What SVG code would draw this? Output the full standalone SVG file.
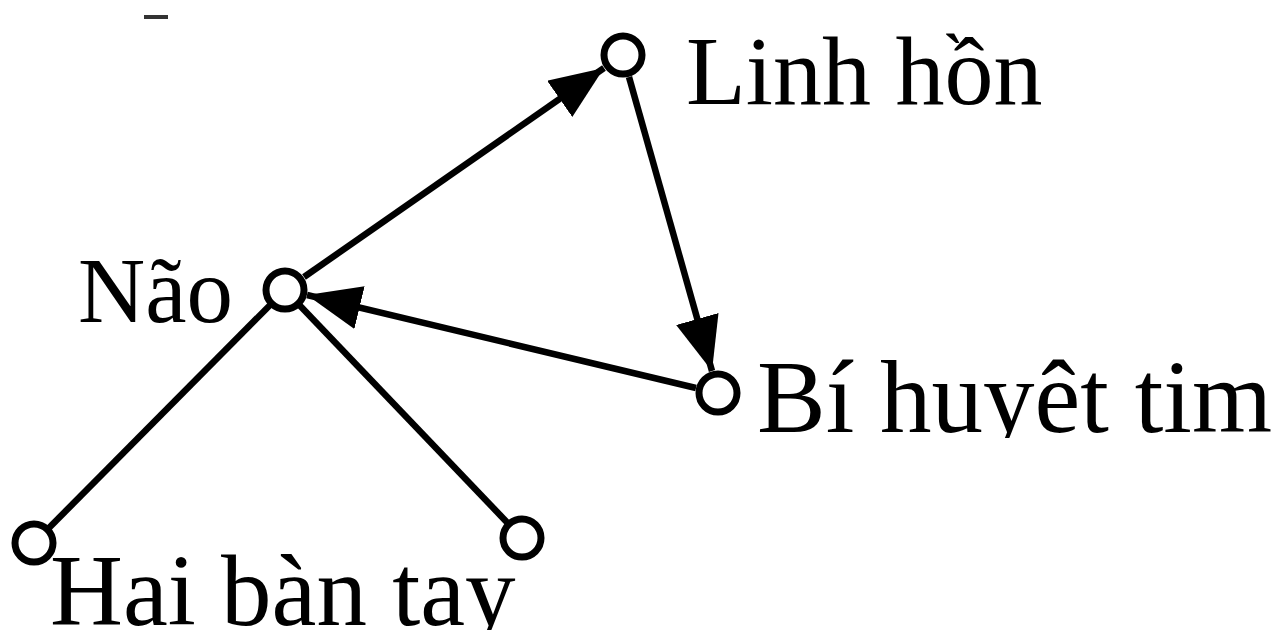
<svg xmlns="http://www.w3.org/2000/svg" width="1279" height="630" viewBox="0 0 1279 630">
<style>
.lbl{font-family:"Liberation Serif","Times New Roman",serif;fill:#000}
.edge{stroke:#000;stroke-width:6.5;fill:none}
.node{fill:#fff;stroke:#000;stroke-width:7}
</style>
<defs>
<marker id="arr" markerUnits="userSpaceOnUse" markerWidth="58" markerHeight="46" refX="54" refY="22" orient="auto">
<path d="M0,0 L54,22 L0,44 z" fill="#000"/>
</marker>
<clipPath id="clipBi"><rect x="740" y="330" width="539" height="108"/></clipPath>
</defs>
<rect width="1279" height="630" fill="#fff"/>
<line x1="144" y1="17" x2="168" y2="17" stroke="#333" stroke-width="4"/>
<g id="connectors">
<line class="edge" x1="304" y1="277" x2="604" y2="68" marker-end="url(#arr)"/>
<line class="edge" x1="629" y1="77" x2="712" y2="371" marker-end="url(#arr)"/>
<line class="edge" x1="696" y1="388" x2="307" y2="295" marker-end="url(#arr)"/>
<line class="edge" x1="285" y1="290" x2="34" y2="543"/>
<line class="edge" x1="285" y1="290" x2="522" y2="538"/>
</g>
<g id="node-linh-hon">
<circle class="node" cx="623" cy="55" r="19"/>
<text class="lbl" x="686" y="104" font-size="98">Linh hồn</text>
</g>
<g id="node-nao">
<circle class="node" cx="285" cy="290" r="19"/>
<text class="lbl" x="78" y="322" font-size="93">Não</text>
</g>
<g id="node-bi-huyet-tim">
<circle class="node" cx="718" cy="393" r="19"/>
<text class="lbl" x="757" y="432" font-size="103" clip-path="url(#clipBi)">Bí huyêt tim</text>
</g>
<g id="node-hai-ban-tay">
<circle class="node" cx="34" cy="543" r="19"/>
<circle class="node" cx="522" cy="538" r="19"/>
<text class="lbl" x="50" y="625" font-size="101">Hai bàn tay</text>
</g>
</svg>
